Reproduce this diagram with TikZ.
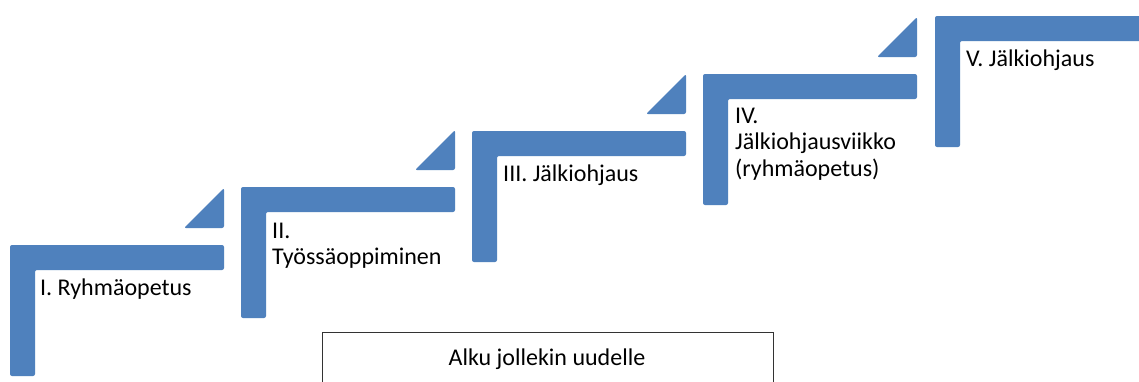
\documentclass[tikz,border=0pt]{standalone}
\usepackage{fontspec}
\setmainfont{Carlito}
\usepackage{tikz}
\usetikzlibrary{positioning}
\definecolor{stairblue}{RGB}{79,129,189}
\tikzset{stairfill/.style = {fill=#1, rounded corners=2pt},
	steplabel/.style = {anchor=base west, inner sep=0pt, align=left,
		font=\fontsize{24}{26.5}\selectfont}}
\NewDocumentCommand{\fstair}{O{stairblue} m m}{%
	\fill[stairfill=#1] (#2,#3+131) -- (#2,#3) -- (#2+214,#3) -- (#2+214,#3+25)
		-- (#2+25,#3+25) -- (#2+25,#3+131) -- cycle;
}
\NewDocumentCommand{\fwedge}{O{stairblue} m m}{%
	\fill[stairfill=#1] (#2+214,#3-57) -- (#2+214,#3-17) -- (#2+174,#3-17) -- cycle;
}
\begin{document}
\begin{tikzpicture}[x=1pt,y=-1pt]
\clip (0,0) rectangle (1139,381);
\fill[white] (0,0) rectangle (1139,381);
\fstair{10}{245}   \fwedge{10}{245}
\fstair{241}{187}  \fwedge{241}{187}
\fstair{472}{131}  \fwedge{472}{131}
\fstair{703}{74}   \fwedge{703}{74}
\fstair{935}{16}
% base of a multi-line label is its last line
\node[steplabel] (s1) at (40,295) {I. Ryhmäopetus};
\node[steplabel] (s2) at (272,264.5) {II.\\Työssäoppiminen};
\node[steplabel] (s3) at (503,181) {III. Jälkiohjaus};
\node[steplabel] (s4) at (735,176) {IV.\\Jälkiohjausviikko\\(ryhmäopetus)};
\node[steplabel] (s5) at (966,66) {V. Jälkiohjaus};
\node[draw=black!80, line width=1pt, anchor=north west, minimum width=451pt,
	minimum height=70pt, inner sep=0pt] (alkubox) at (322,332) {};
\node[anchor=base, inner sep=0pt, font=\fontsize{24}{26.5}\selectfont] (alku)
	at (547,365) {Alku jollekin uudelle};
\end{tikzpicture}
\end{document}
